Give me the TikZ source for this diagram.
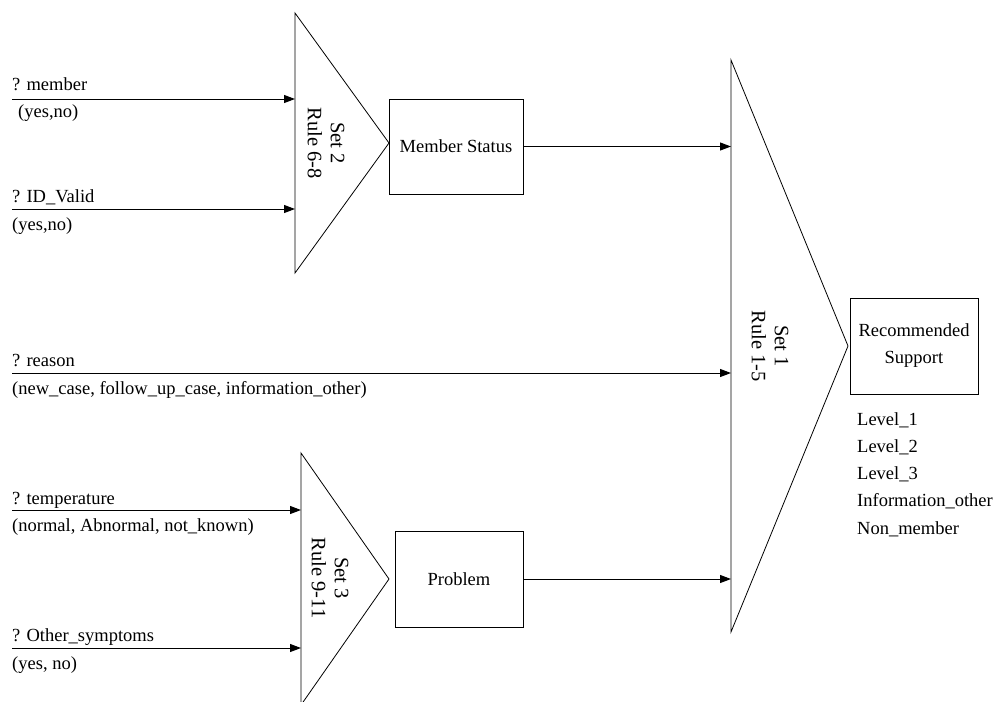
\documentclass[tikz,border=0pt]{standalone}
\usepackage{fontspec}
\setmainfont{Liberation Serif}
\usetikzlibrary{arrows.meta,positioning}
\tikzset{
  >={Triangle[length=11pt,width=8pt]},
  flow/.style={->,line width=1pt,draw=#1},
  flow/.default=black,
  box/.style={draw,line width=1pt,inner sep=0pt,align=center,
    font=\fontsize{18.5}{27}\selectfont},
  tag/.style={inner sep=0pt,anchor=base west,font=\fontsize{18.5}{27}\selectfont},
  ruleset/.style={rotate=-90,align=center,inner sep=0pt,
    font=\fontsize{20.5}{23}\selectfont},
  wedge/.style={draw,line width=0.8pt},
}

\begin{document}
\begin{tikzpicture}[x=1pt,y=-1pt]
    \useasboundingbox (0,0) rectangle (997,702);
    % Set 2
    \coordinate (s2top) at (295,13);
    \coordinate (s2tip) at (389,143);
    \coordinate (s2bot) at (295,273);
    \draw[wedge] (s2top) -- (s2tip) -- (s2bot) -- cycle;
    \node[ruleset] (s2lab) at (326,143) {Set 2\\Rule 6-8};
    % Set 3
    \coordinate (s3top) at (301,453);
    \coordinate (s3tip) at (389,579);
    \coordinate (s3bot) at (301,705);
    \draw[wedge] (s3top) -- (s3tip) -- (s3bot) -- cycle;
    \node[ruleset] (s3lab) at (330,578) {Set 3\\Rule 9-11};
    % Set 1
    \coordinate (s1top) at (731,60);
    \coordinate (s1tip) at (848,346);
    \coordinate (s1bot) at (731,632);
    \draw[wedge] (s1top) -- (s1tip) -- (s1bot) -- cycle;
    \node[ruleset] (s1lab) at (770,346) {Set 1\\Rule 1-5};
    % boxes
    \node[box,minimum width=134pt,minimum height=95pt] (status) at (456,146.5) {Member Status};
    \node[box,minimum width=128pt,minimum height=96pt] (problem) at (459,579) {Problem};
    \node[box,minimum width=128pt,minimum height=96pt] (support) at (914,346) {Recommended\\Support};
    % inputs
    \coordinate (member) at (12,99);
    \coordinate (idvalid) at (12,209);
    \coordinate (reason) at (12,373);
    \coordinate (temp) at (12,510);
    \coordinate (other) at (12,648);
    \draw[flow] (member) -- (member -| s2top);
    \draw[flow] (idvalid) -- (idvalid -| s2top);
    \draw[flow] (reason) -- (reason -| s1top);
    \draw[flow] (temp) -- (temp -| s3top);
    \draw[flow] (other) -- (other -| s3top);
    \draw[flow] (status.east) -- (status.east -| s1top);
    \draw[flow] (problem.east) -- (problem.east -| s1top);
    % labels
    \node[tag] (memberq) at (12,90) {? member};
    \node[tag] (memberv) at (18,117) {(yes,no)};
    \node[tag] (idq) at (12,202) {? ID\_Valid};
    \node[tag] (idv) at (12,230) {(yes,no)};
    \node[tag] (reasonq) at (12,366) {? reason};
    \node[tag] (reasonv) at (12,394) {(new\_case, follow\_up\_case, information\_other)};
    \node[tag] (tempq) at (12,504) {? temperature};
    \node[tag] (tempv) at (12,531) {(normal, Abnormal, not\_known)};
    \node[tag] (otherq) at (12,641) {? Other\_symptoms};
    \node[tag] (otherv) at (12,669) {(yes, no)};
    % support levels
    \foreach \lv [count=\i] in {Level\_1,Level\_2,Level\_3,Information\_other,Non\_member}
      \node[tag] (lv\i) at (857,{425+27.3*(\i-1)}) {\lv};
\end{tikzpicture}
\end{document}
